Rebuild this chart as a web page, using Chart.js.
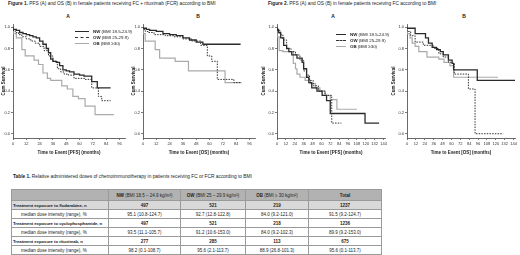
<!DOCTYPE html>
<html>
<head>
<meta charset="utf-8">
<script src="https://cdn.jsdelivr.net/npm/chart.js@4/dist/chart.umd.min.js"></script>
<style>
  body { margin: 0; width: 520px; height: 255px; background: #fff; position: relative; overflow: hidden;
         font-family: "Liberation Sans", Arial, sans-serif; color: #222; }
  canvas { position: absolute; }
  .txt { position: absolute; white-space: nowrap; }
  .ftitle { font-size: 4.8px; }
  .panel { font-size: 5px; font-weight: bold; transform: translateX(-50%); }
  .leg { position: absolute; font-size: 4.4px; line-height: 5.8px; white-space: nowrap; }
  .leg span { display: inline-block; vertical-align: middle; margin-right: 4px; }
  table { position: absolute; left: 11px; top: 189px; width: 370px; border-collapse: collapse; table-layout: fixed;
          font-size: 4.5px; }
  td, th { border: 1px solid #9a9a9a; padding: 0 1px; text-align: center; white-space: nowrap; overflow: hidden; line-height: 5px; }
  th { background: #b2b2b2; font-weight: normal; }
  tr.head { height: 11px; }
  tr.row { height: 9px; }
  tr.grey td { background: #d9d9d9; }
  td.lab { text-align: left; font-weight: bold; font-size: 4.3px; letter-spacing: -0.05px; }
  td.sub { text-align: left; padding-left: 9px; }
  td.b { font-weight: bold; }
</style>
</head>
<body>

<div class="txt ftitle" style="left:8px;top:1px"><b>Figure 1.</b> PFS (A) and OS (B) in female patients receiving FC + rituximab (FCR) according to BMI</div>
<div class="txt ftitle" style="left:268px;top:1px"><b>Figure 2.</b> PFS (A) and OS (B) in female patients receiving FC according to BMI</div>
<div class="txt panel" style="left:68px;top:13px">A</div>
<div class="txt panel" style="left:198px;top:13px">B</div>
<div class="txt panel" style="left:333px;top:13px">A</div>
<div class="txt panel" style="left:464px;top:13px">B</div>

<canvas id="c1" width="130" height="140" style="left:0;top:20px"></canvas>
<canvas id="c2" width="130" height="140" style="left:130px;top:20px"></canvas>
<canvas id="c3" width="130" height="140" style="left:260px;top:20px"></canvas>
<canvas id="c4" width="130" height="140" style="left:390px;top:20px"></canvas>

<div class="leg" style="left:75px;top:29px">
  <div><span style="width:14px;border-top:1.4px solid #2b2b2b"></span><b>NW</b> (BMI 18.5-24.9)</div>
  <div><span style="width:14px;border-top:1.2px dashed #333"></span><b>OW</b> (BMI 25-29.9)</div>
  <div><span style="width:14px;border-top:1.2px solid #aaa"></span><b>OB</b> (BMI ≥30)</div>
</div>
<div class="leg" style="left:336px;top:32px">
  <div><span style="width:10px;border-top:1.4px solid #2b2b2b"></span><b>NW</b> (BMI 18.5-24.9)</div>
  <div><span style="width:10px;border-top:1.2px dashed #333"></span><b>OW</b> (BMI 25-29.9)</div>
  <div><span style="width:10px;border-top:1.2px solid #aaa"></span><b>OB</b> (BMI ≥30)</div>
</div>

<div class="txt ftitle" style="left:13px;top:174px"><b>Table 1.</b> Relative administered doses of chemoimmunotherapy in patients receiving FC or FCR according to BMI</div>
<table id="tbl"></table>

<script>
// ---- survival curves: time (months) and cumulative survival ----
// Figure 1, FCR, PFS
const fcrPfsNwT = [0, 3, 6, 9, 12, 15, 18, 21, 24, 27, 30, 32, 34, 36, 39, 42, 45, 48, 51, 55, 60, 64, 71, 76, 77, 88];
const fcrPfsNwS = [1.0, 0.98, 0.97, 0.95, 0.94, 0.93, 0.92, 0.91, 0.90, 0.87, 0.84, 0.80, 0.76, 0.70, 0.68, 0.67, 0.64, 0.60, 0.59, 0.58, 0.56, 0.55, 0.54, 0.49, 0.43, 0.43];
const fcrPfsOwT = [0, 2, 5, 8, 12, 16, 20, 24, 28, 32, 36, 40, 43, 46, 50, 55, 65, 71, 77, 80, 83, 88];
const fcrPfsOwS = [1.0, 0.97, 0.95, 0.93, 0.91, 0.89, 0.87, 0.85, 0.82, 0.78, 0.73, 0.68, 0.61, 0.58, 0.56, 0.55, 0.52, 0.51, 0.43, 0.35, 0.31, 0.31];
const fcrPfsObT = [0, 3, 8, 11, 19, 23, 27, 31, 34, 44, 49, 54, 59, 65, 74, 82, 91];
const fcrPfsObS = [1.0, 0.94, 0.90, 0.79, 0.73, 0.69, 0.65, 0.57, 0.52, 0.50, 0.45, 0.42, 0.35, 0.33, 0.26, 0.18, 0.18];
// Figure 1, FCR, OS
const fcrOsNwT = [0, 3, 6, 12, 18, 24, 30, 36, 42, 48, 54, 58, 88];
const fcrOsNwS = [1.0, 0.99, 0.98, 0.97, 0.96, 0.94, 0.93, 0.92, 0.90, 0.88, 0.86, 0.84, 0.84];
const fcrOsOwT = [0, 2, 5, 10, 20, 28, 36, 44, 52, 58, 62, 67, 82, 83, 88];
const fcrOsOwS = [1.0, 0.98, 0.96, 0.95, 0.93, 0.92, 0.91, 0.89, 0.87, 0.83, 0.73, 0.68, 0.51, 0.48, 0.48];
const fcrOsObT = [0, 2, 11, 15, 29, 41, 74, 80, 89];
const fcrOsObS = [1.0, 0.94, 0.87, 0.79, 0.71, 0.68, 0.59, 0.48, 0.48];
// Figure 2, FC, PFS
const fcPfsNwT = [0, 2, 5, 9, 13, 16, 20, 27, 34, 36, 40, 43, 47, 54, 61, 67, 72, 119, 138];
const fcPfsNwS = [1.0, 0.98, 0.95, 0.90, 0.83, 0.80, 0.77, 0.74, 0.71, 0.67, 0.61, 0.53, 0.48, 0.43, 0.40, 0.36, 0.31, 0.19, 0.10];
const fcPfsOwT = [0, 4, 8, 13, 19, 25, 31, 36, 40, 44, 49, 56, 65, 74, 87];
const fcPfsOwS = [1.0, 0.97, 0.93, 0.88, 0.80, 0.77, 0.74, 0.69, 0.59, 0.55, 0.50, 0.45, 0.40, 0.36, 0.10];
const fcPfsObT = [0, 3, 8, 22, 25, 27, 31, 38, 45, 52, 58, 65, 72, 81, 89, 108];
const fcPfsObS = [1.0, 0.91, 0.78, 0.77, 0.66, 0.61, 0.56, 0.53, 0.50, 0.47, 0.43, 0.40, 0.36, 0.32, 0.23, 0.23];
// Figure 2, FC, OS
const fcOsNwT = [0, 11, 25, 29, 34, 40, 45, 49, 56, 61, 63, 95, 114, 146];
const fcOsNwS = [1.0, 0.99, 0.94, 0.90, 0.85, 0.81, 0.79, 0.77, 0.74, 0.69, 0.66, 0.60, 0.50, 0.50];
const fcOsOwT = [0, 5, 11, 22, 36, 43, 49, 56, 61, 64, 83, 92, 130];
const fcOsOwS = [1.0, 0.96, 0.92, 0.86, 0.83, 0.80, 0.75, 0.72, 0.67, 0.66, 0.56, 0.42, 0.0];
const fcOsObT = [0, 4, 7, 11, 16, 27, 43, 50, 58, 63, 85, 123];
const fcOsObS = [1.0, 0.94, 0.90, 0.85, 0.82, 0.77, 0.72, 0.70, 0.67, 0.64, 0.53, 0.53];

const yTicks = [0, 0.2, 0.4, 0.6, 0.8, 1.0];
const fcrTicksX = [0, 12, 24, 36, 48, 60, 72, 84, 96];
const fcTicksX = [0, 12, 24, 36, 48, 60, 72, 84, 96, 108, 120, 132, 144];

// ---- table ----
const groupNames = ['NW', 'OW', 'OB', 'Total'];
const groupRanges = ['(BMI 18.5 – 24.9 kg/m²)', '(BMI 25 – 29.9 kg/m²)', '(BMI ≥ 30 kg/m²)', ''];
const fluN = ['497', '521', '219', '1237'];
const fluDose = ['95.1 (10.8-124.7)', '92.7 (12.8-122.8)', '84.0 (9.2-121.0)', '91.5 (9.2-124.7)'];
const cycN = ['497', '521', '218', '1236'];
const cycDose = ['93.5 (11.1-105.7)', '91.2 (10.6-153.0)', '84.0 (9.2-102.3)', '89.9 (9.2-153.0)'];
const ritN = ['277', '285', '113', '675'];
const ritDose = ['98.2 (0.1-108.7)', '95.6 (2.1-113.7)', '88.9 (26.8-101.3)', '95.6 (0.1-113.7)'];

const FONT = '"Liberation Sans", Arial, sans-serif';

function pts(t, s) {
  return t.map((v, i) => ({ x: v, y: s[i] }));
}

function series(t, s, kind) {
  const base = { data: pts(t, s), stepped: 'after', pointRadius: 0, fill: false };
  if (kind === 'nw') return Object.assign(base, { borderColor: '#2b2b2b', borderWidth: 1.3 });
  if (kind === 'ow') return Object.assign(base, { borderColor: '#333', borderWidth: 1, borderDash: [1.5, 1.2] });
  return Object.assign(base, { borderColor: '#aaaaaa', borderWidth: 1.2 });
}

function kmChart(id, sets, xTicks, xMax, xTitle, yw) {
  new Chart(document.getElementById(id), {
    type: 'line',
    data: { datasets: sets },
    options: {
      responsive: false,
      animation: false,
      devicePixelRatio: 1,
      layout: { padding: { top: 4, right: 5, left: 0, bottom: 0 } },
      plugins: { legend: { display: false }, tooltip: { enabled: false } },
      scales: {
        x: {
          type: 'linear', min: 0, max: xMax,
          afterBuildTicks: s => { s.ticks = xTicks.map(v => ({ value: v })); },
          afterFit: s => { s.height = 22; },
          grid: { display: true, drawOnChartArea: false, drawTicks: true, tickLength: 2, color: '#444', lineWidth: 0.7 },
          border: { display: true, color: '#444', width: 0.8 },
          ticks: { font: { size: 4, family: FONT }, color: '#333', padding: 1, maxRotation: 0, autoSkip: false },
          title: { display: true, text: xTitle, color: '#222', font: { size: 4.5, weight: 'bold', family: FONT }, padding: { top: 0, bottom: 5 } }
        },
        y: {
          min: -0.04, max: 1.03,
          afterBuildTicks: s => { s.ticks = yTicks.map(v => ({ value: v })); },
          afterFit: s => { s.width = yw; },
          grid: { display: true, drawOnChartArea: false, drawTicks: true, tickLength: 2, color: '#444', lineWidth: 0.7 },
          border: { display: true, color: '#444', width: 0.8 },
          ticks: { font: { size: 4, family: FONT }, color: '#333', padding: 1, callback: v => v.toFixed(1) },
          title: { display: true, text: 'Cum Survival', color: '#222', font: { size: 4.5, weight: 'bold', family: FONT }, padding: { top: 1, bottom: 0 } }
        }
      }
    }
  });
}

kmChart('c1', [series(fcrPfsNwT, fcrPfsNwS, 'nw'), series(fcrPfsOwT, fcrPfsOwS, 'ow'), series(fcrPfsObT, fcrPfsObS, 'ob')],
  fcrTicksX, 101, 'Time to Event [PFS] (months)', 13);
kmChart('c2', [series(fcrOsNwT, fcrOsNwS, 'nw'), series(fcrOsOwT, fcrOsOwS, 'ow'), series(fcrOsObT, fcrOsObS, 'ob')],
  fcrTicksX, 101, 'Time to Event [OS] (months)', 13);
kmChart('c3', [series(fcPfsNwT, fcPfsNwS, 'nw'), series(fcPfsOwT, fcPfsOwS, 'ow'), series(fcPfsObT, fcPfsObS, 'ob')],
  fcTicksX, 146, 'Time to Event [PFS] (months)', 17);
kmChart('c4', [series(fcOsNwT, fcOsNwS, 'nw'), series(fcOsOwT, fcOsOwS, 'ow'), series(fcOsObT, fcOsObS, 'ob')],
  fcTicksX, 146, 'Time to Event [OS] (months)', 17);

// build table
const tbl = document.getElementById('tbl');
const widths = [97, 72, 65, 63, 73];
let html = '<colgroup>' + widths.map(w => '<col style="width:' + w + 'px">').join('') + '</colgroup>';
html += '<tr class="head"><th></th>' + groupNames.map((g, i) => '<th><b>' + g + '</b> ' + groupRanges[i] + '</th>').join('') + '</tr>';
function rowN(label, vals, cls) {
  return '<tr class="row ' + cls + '"><td class="lab">' + label + '</td>' + vals.map(v => '<td class="b">' + v + '</td>').join('') + '</tr>';
}
function rowD(vals) {
  return '<tr class="row"><td class="sub">median dose intensity (range), %</td>' + vals.map(v => '<td>' + v + '</td>').join('') + '</tr>';
}
html += rowN('Treatment exposure to fludarabine, n', fluN, 'grey') + rowD(fluDose);
html += rowN('Treatment exposure to cyclophosphamide, n', cycN, '') + rowD(cycDose);
html += rowN('Treatment exposure to rituximab, n', ritN, '') + rowD(ritDose);
tbl.innerHTML = html;
</script>
</body>
</html>
